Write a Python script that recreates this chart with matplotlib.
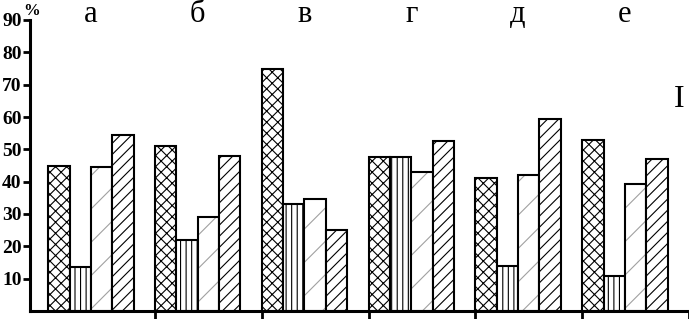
import matplotlib.pyplot as plt
import numpy as np

plt.rcParams['font.family'] = ['Liberation Serif', 'DejaVu Serif']
plt.rcParams['hatch.linewidth'] = 0.8

# groups and values (%) for the four bar types
groups = ['а', 'б', 'в', 'г', 'д', 'е']
cross = [45, 51, 75, 47.5, 41, 53]
vert = [13.5, 22, 33, 47.5, 14, 10.8]
dotted = [44.5, 29, 34.5, 43, 42, 39.4]
diag = [54.5, 48, 25, 52.5, 59.5, 47]
yticks = [10, 20, 30, 40, 50, 60, 70, 80, 90]

fig = plt.figure(figsize=(6.89, 3.19), dpi=100)
ax = fig.add_axes([30 / 689, 8 / 319, 659 / 689, 291 / 319])

x = np.arange(len(groups))
w = 0.2

ax.bar(x + 0.1, cross, w, color='white', edgecolor='black', hatch='xxx', linewidth=1.5)
ax.bar(x + 0.3, vert, w, color='white', edgecolor='black', hatch='|||', linewidth=1.5)
# dotted bar: grey hatch first, black outline on top
ax.bar(x + 0.5, dotted, w, color='white', edgecolor='#a0a0a0', hatch='/', linewidth=0)
ax.bar(x + 0.5, dotted, w, color='none', edgecolor='black', linewidth=1.5)
ax.bar(x + 0.7, diag, w, color='white', edgecolor='black', hatch='///', linewidth=1.5)

ax.set_xlim(-0.17, 5.99)
ax.set_ylim(0, 90)
ax.spines['top'].set_visible(False)
ax.spines['right'].set_visible(False)
ax.spines['left'].set_linewidth(2.2)
ax.spines['bottom'].set_linewidth(2.2)

ax.set_yticks(yticks)
ax.set_yticklabels([str(v) for v in yticks], fontsize=14, fontweight='bold')
ax.tick_params(axis='y', direction='out', length=5, width=2, pad=1)
ax.set_xticks(np.arange(1, 7))
ax.set_xticklabels([])
ax.tick_params(axis='x', direction='out', length=6, width=2)

for i, g in enumerate(groups):
    ax.text(i + 0.4, 89.5, g, ha='center', va='baseline', fontsize=22, clip_on=False)

ax.text(-0.16, 91.5, '%', ha='center', va='baseline', fontsize=12, fontweight='bold')
ax.text(5.91, 63.1, 'I', ha='center', va='baseline', fontsize=23)

fig.savefig('out.png', dpi=100)
